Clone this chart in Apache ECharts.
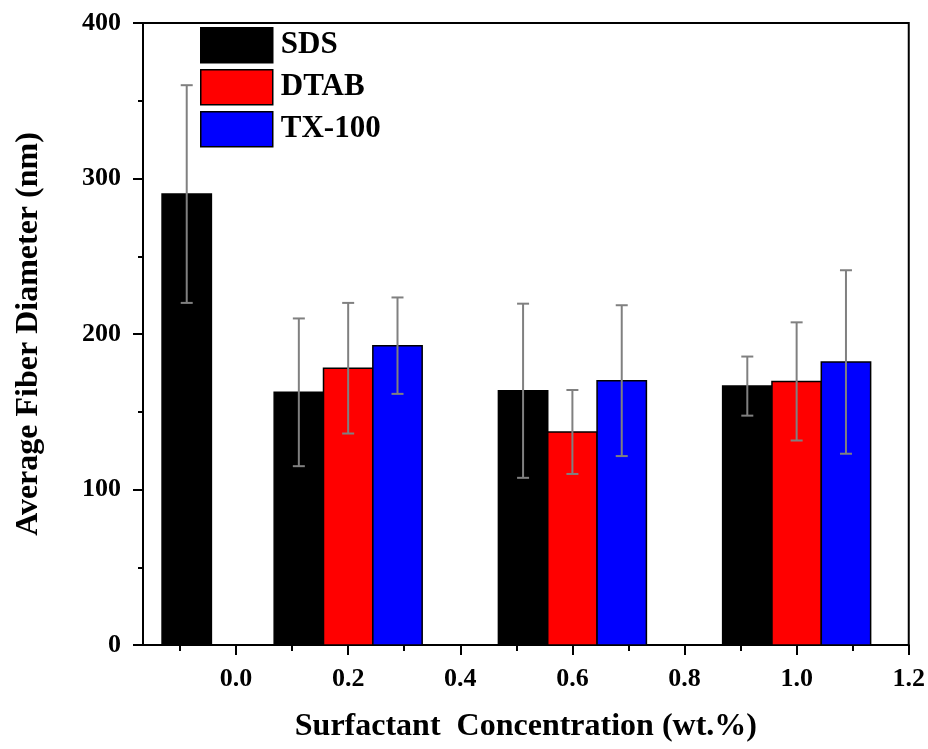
<!DOCTYPE html>
<html lang="en">
<head>
    <meta charset="UTF-8">
    <title>Average Fiber Diameter</title>
    <style>
        html, body { margin: 0; padding: 0; background: #fff; }
        #chart { width: 928px; height: 749px; }
    </style>
</head>
<body>
    <div id="chart"></div>
    <script src="https://cdn.jsdelivr.net/npm/echarts@6.0.0/dist/echarts.min.js"></script>
    <script>
        // concentrations (wt.%) and values
        const concentrations = [0.0, 0.2, 0.6, 1.0];
        const seriesNames = ['SDS', 'DTAB', 'TX-100'];
        const seriesColors = ['#000000', '#ff0000', '#0000ff'];

        // null = no bar at that concentration
        const sdsMean = [290, 162.5, 163.5, 166.5];
        const sdsErr = [70, 47.5, 56, 19];
        const dtabMean = [null, 178, 137, 169.5];
        const dtabErr = [null, 42, 27, 38];
        const txMean = [null, 192.5, 170, 182];
        const txErr = [null, 31, 48.5, 59];

        const xTickValues = [0, 0.2, 0.4, 0.6, 0.8, 1.0, 1.2];
        const xTickLabels = ['0.0', '0.2', '0.4', '0.6', '0.8', '1.0', '1.2'];
        const xMinorTicks = [-0.1, 0.1, 0.3, 0.5, 0.7, 0.9, 1.1];

        const barW = 0.088;   // bar width in wt.% units
        const font = "'Liberation Serif', 'Times New Roman', serif";

        const means = [sdsMean, dtabMean, txMean];
        const errs = [sdsErr, dtabErr, txErr];

        function makeSeries(i) {
            const data = [];
            concentrations.forEach(function (c, k) {
                if (means[i][k] != null) data.push([c, means[i][k], errs[i][k]]);
            });
            const offset = (i - 1) * barW;
            return {
                name: seriesNames[i],
                type: 'custom',
                xAxisIndex: 0,
                itemStyle: { color: seriesColors[i] },
                data: data,
                renderItem: function (params, api) {
                    const x = api.value(0) + offset;
                    const y = api.value(1);
                    const e = api.value(2);
                    const p0 = api.coord([x - barW / 2, y]);
                    const p1 = api.coord([x + barW / 2, 0]);
                    const hi = api.coord([x, y + e]);
                    const lo = api.coord([x, y - e]);
                    const cap = 6;
                    const errStyle = { stroke: '#808080', lineWidth: 2 };
                    return {
                        type: 'group',
                        children: [
                            {
                                type: 'rect',
                                shape: { x: p0[0], y: p0[1], width: p1[0] - p0[0], height: p1[1] - p0[1] },
                                style: { fill: seriesColors[i], stroke: '#000', lineWidth: 1.5 }
                            },
                            {
                                type: 'line',
                                shape: { x1: hi[0], y1: hi[1], x2: lo[0], y2: lo[1] },
                                style: errStyle
                            },
                            {
                                type: 'line',
                                shape: { x1: hi[0] - cap, y1: hi[1], x2: hi[0] + cap, y2: hi[1] },
                                style: errStyle
                            },
                            {
                                type: 'line',
                                shape: { x1: lo[0] - cap, y1: lo[1], x2: lo[0] + cap, y2: lo[1] },
                                style: errStyle
                            }
                        ]
                    };
                }
            };
        }

        let myChart = echarts.init(document.getElementById('chart'));

        let chartOption = {
            animation: false,
            backgroundColor: '#fff',
            grid: {
                left: 143,
                right: 11,
                top: 23,
                bottom: 104,
                show: true,
                borderColor: '#000',
                borderWidth: 2
            },
            legend: {
                orient: 'vertical',
                left: 195,
                top: 22,
                icon: 'rect',
                itemWidth: 72,
                itemHeight: 35,
                itemGap: 5.5,
                itemStyle: { borderColor: '#000', borderWidth: 1.5 },
                textStyle: { fontFamily: font, fontWeight: 'bold', fontSize: 31, color: '#000', padding: [0, 0, 0, 3] },
                data: seriesNames
            },
            xAxis: [
                {
                    type: 'value',
                    min: -0.166,
                    max: 1.2,
                    name: 'Surfactant  Concentration (wt.%)',
                    nameLocation: 'middle',
                    nameGap: 66,
                    nameTextStyle: { fontFamily: font, fontWeight: 'bold', fontSize: 32, color: '#000' },
                    axisLine: { onZero: false, lineStyle: { color: '#000', width: 2 } },
                    axisTick: { customValues: xTickValues, length: 10, lineStyle: { color: '#000', width: 2 } },
                    axisLabel: {
                        customValues: xTickValues,
                        margin: 21,
                        fontFamily: font,
                        fontWeight: 'bold',
                        fontSize: 26,
                        color: '#000',
                        formatter: function (v) {
                            const k = xTickValues.findIndex(function (t) { return Math.abs(t - v) < 1e-6; });
                            return k >= 0 ? xTickLabels[k] : '';
                        }
                    },
                    splitLine: { show: false }
                },
                {
                    // minor ticks only
                    type: 'value',
                    min: -0.166,
                    max: 1.2,
                    position: 'bottom',
                    axisLine: { show: false, onZero: false },
                    axisTick: { customValues: xMinorTicks, length: 6, lineStyle: { color: '#000', width: 2 } },
                    axisLabel: { show: false },
                    splitLine: { show: false }
                }
            ],
            yAxis: {
                type: 'value',
                min: 0,
                max: 400,
                interval: 100,
                name: 'Average Fiber Diameter (nm)',
                nameLocation: 'middle',
                nameGap: 98,
                nameTextStyle: { fontFamily: font, fontWeight: 'bold', fontSize: 32, color: '#000' },
                axisLine: { show: true, onZero: false, lineStyle: { color: '#000', width: 2 } },
                axisTick: { length: 10, lineStyle: { color: '#000', width: 2 } },
                minorTick: { show: true, splitNumber: 2, length: 5, lineStyle: { color: '#000', width: 2 } },
                axisLabel: { margin: 22, fontFamily: font, fontWeight: 'bold', fontSize: 26, color: '#000' },
                splitLine: { show: false }
            },
            series: [makeSeries(0), makeSeries(1), makeSeries(2)]
        };

        myChart.setOption(chartOption);
    </script>
</body>
</html>
